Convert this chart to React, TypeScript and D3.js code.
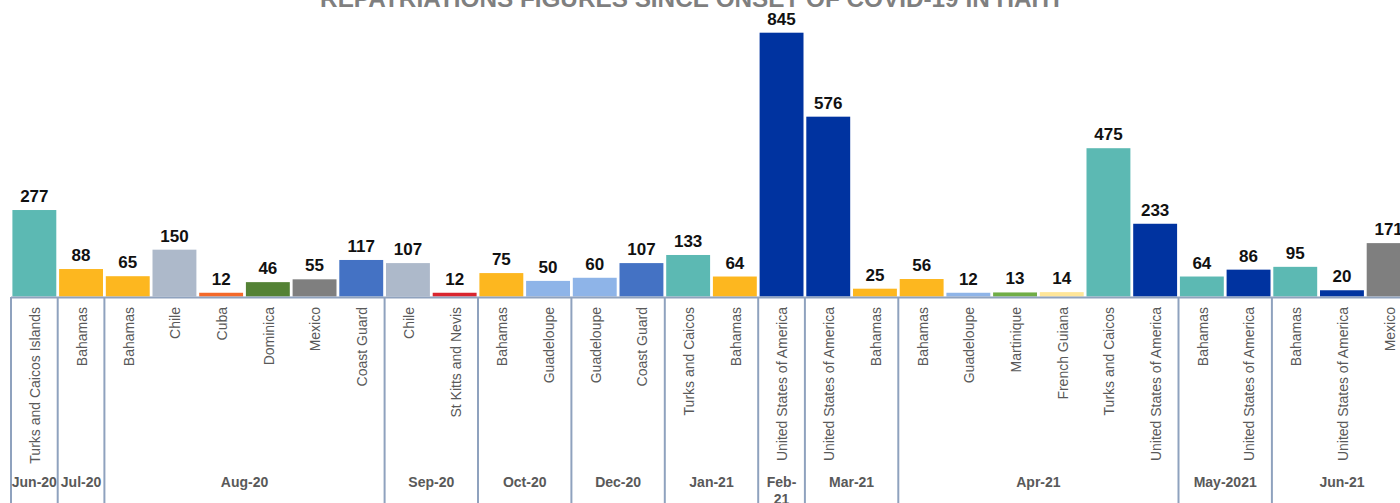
import React from "react";
import * as d3 from "d3";

const titleText = "REPATRIATIONS FIGURES SINCE ONSET OF COVID-19 IN HAITI";

const countries = [
  "Turks and Caicos Islands", "Bahamas", "Bahamas", "Chile", "Cuba", "Dominica", "Mexico", "Coast Guard",
  "Chile", "St Kitts and Nevis", "Bahamas", "Guadeloupe", "Guadeloupe", "Coast Guard", "Turks and Caicos", "Bahamas",
  "United States of America", "United States of America", "Bahamas", "Bahamas", "Guadeloupe", "Martinique",
  "French Guiana", "Turks and Caicos", "United States of America", "Bahamas", "United States of America",
  "Bahamas", "United States of America", "Mexico",
];

const values = [
  277, 88, 65, 150, 12, 46, 55, 117,
  107, 12, 75, 50, 60, 107, 133, 64,
  845, 576, 25, 56, 12, 13,
  14, 475, 233, 64, 86,
  95, 20, 171,
];

const barColors = [
  "#5CB9B3", "#FDB71F", "#FDB71F", "#ADB9CA", "#F4692A", "#548235", "#7F7F7F", "#4472C4",
  "#ADB9CA", "#D9252F", "#FDB71F", "#8EB4E8", "#8EB4E8", "#4472C4", "#5CB9B3", "#FDB71F",
  "#0033A0", "#0033A0", "#FDB71F", "#FDB71F", "#8EB4E8", "#70AD47",
  "#FFE699", "#5CB9B3", "#0033A0", "#5CB9B3", "#0033A0",
  "#5CB9B3", "#0033A0", "#7F7F7F",
];

const months = ["Jun-20", "Jul-20", "Aug-20", "Sep-20", "Oct-20", "Dec-20", "Jan-21", "Feb-21", "Mar-21", "Apr-21", "May-2021", "Jun-21"];
const monthCounts = [1, 1, 6, 2, 2, 2, 2, 1, 2, 6, 2, 3];

const W = 1400;
const H = 503;
const left = 11;
const baseY = 296.5;
const topY = 32.7;
const sepColor = "#8FA2BE";
const textGray = "#595959";

export default function App() {
  const idx = values.map((_, i) => String(i));
  const x = d3
    .scaleBand<string>()
    .domain(idx)
    .range([left, left + 46.7 * values.length])
    .paddingInner(0.06)
    .paddingOuter(0.03);
  const y = d3.scaleLinear().domain([0, 845]).range([baseY, topY]);
  const step = x.step();
  const half = (step * x.paddingInner()) / 2;

  const groups: { name: string; start: number; end: number }[] = [];
  let s = 0;
  months.forEach((m, i) => {
    const c = monthCounts[i];
    const x0 = (x(String(s)) as number) - half;
    const x1 = (x(String(s + c - 1)) as number) + x.bandwidth() + half;
    groups.push({ name: m, start: x0, end: x1 });
    s += c;
  });

  const font = "'Liberation Sans', Arial, sans-serif";

  return (
    <svg
      width={W}
      height={H}
      style={{ position: "absolute", left: 0, top: 0, background: "#fff" }}
      fontFamily={font}
    >
      <text x={690} y={6.5} textAnchor="middle" fontSize={24.3} fontWeight="bold" fill="#7F7F7F">
        {titleText}
      </text>
      {values.map((v, i) => {
        const bx = x(String(i)) as number;
        return (
          <g key={i}>
            <rect x={bx} y={y(v)} width={x.bandwidth()} height={baseY - y(v)} fill={barColors[i]} />
            <text
              x={bx + x.bandwidth() / 2}
              y={y(v) - 8}
              textAnchor="middle"
              fontSize={17}
              fontWeight="bold"
              fill="#111"
            >
              {v}
            </text>
            <text
              transform={`translate(${bx + x.bandwidth() / 2 + 1},307) rotate(-90)`}
              textAnchor="end"
              dy="0.35em"
              fontSize={14}
              fill={textGray}
            >
              {countries[i]}
            </text>
          </g>
        );
      })}
      <line x1={left} x2={W + 20} y1={baseY + 1} y2={baseY + 1} stroke={sepColor} strokeWidth={1.8} />
      {groups.map((g, i) => (
        <g key={g.name}>
          {i === 0 && (
            <line x1={g.start} x2={g.start} y1={baseY + 0.5} y2={H + 10} stroke={sepColor} strokeWidth={2} />
          )}
          <line x1={g.end} x2={g.end} y1={baseY + 0.5} y2={H + 10} stroke={sepColor} strokeWidth={2} />
          {g.name === "Feb-21" ? (
            <text x={(g.start + g.end) / 2} y={487} textAnchor="middle" fontSize={14} fontWeight="bold" fill={textGray}>
              <tspan x={(g.start + g.end) / 2}>Feb-</tspan>
              <tspan x={(g.start + g.end) / 2} dy={17}>21</tspan>
            </text>
          ) : (
            <text x={(g.start + g.end) / 2} y={487} textAnchor="middle" fontSize={14} fontWeight="bold" fill={textGray}>
              {g.name}
            </text>
          )}
        </g>
      ))}
    </svg>
  );
}
